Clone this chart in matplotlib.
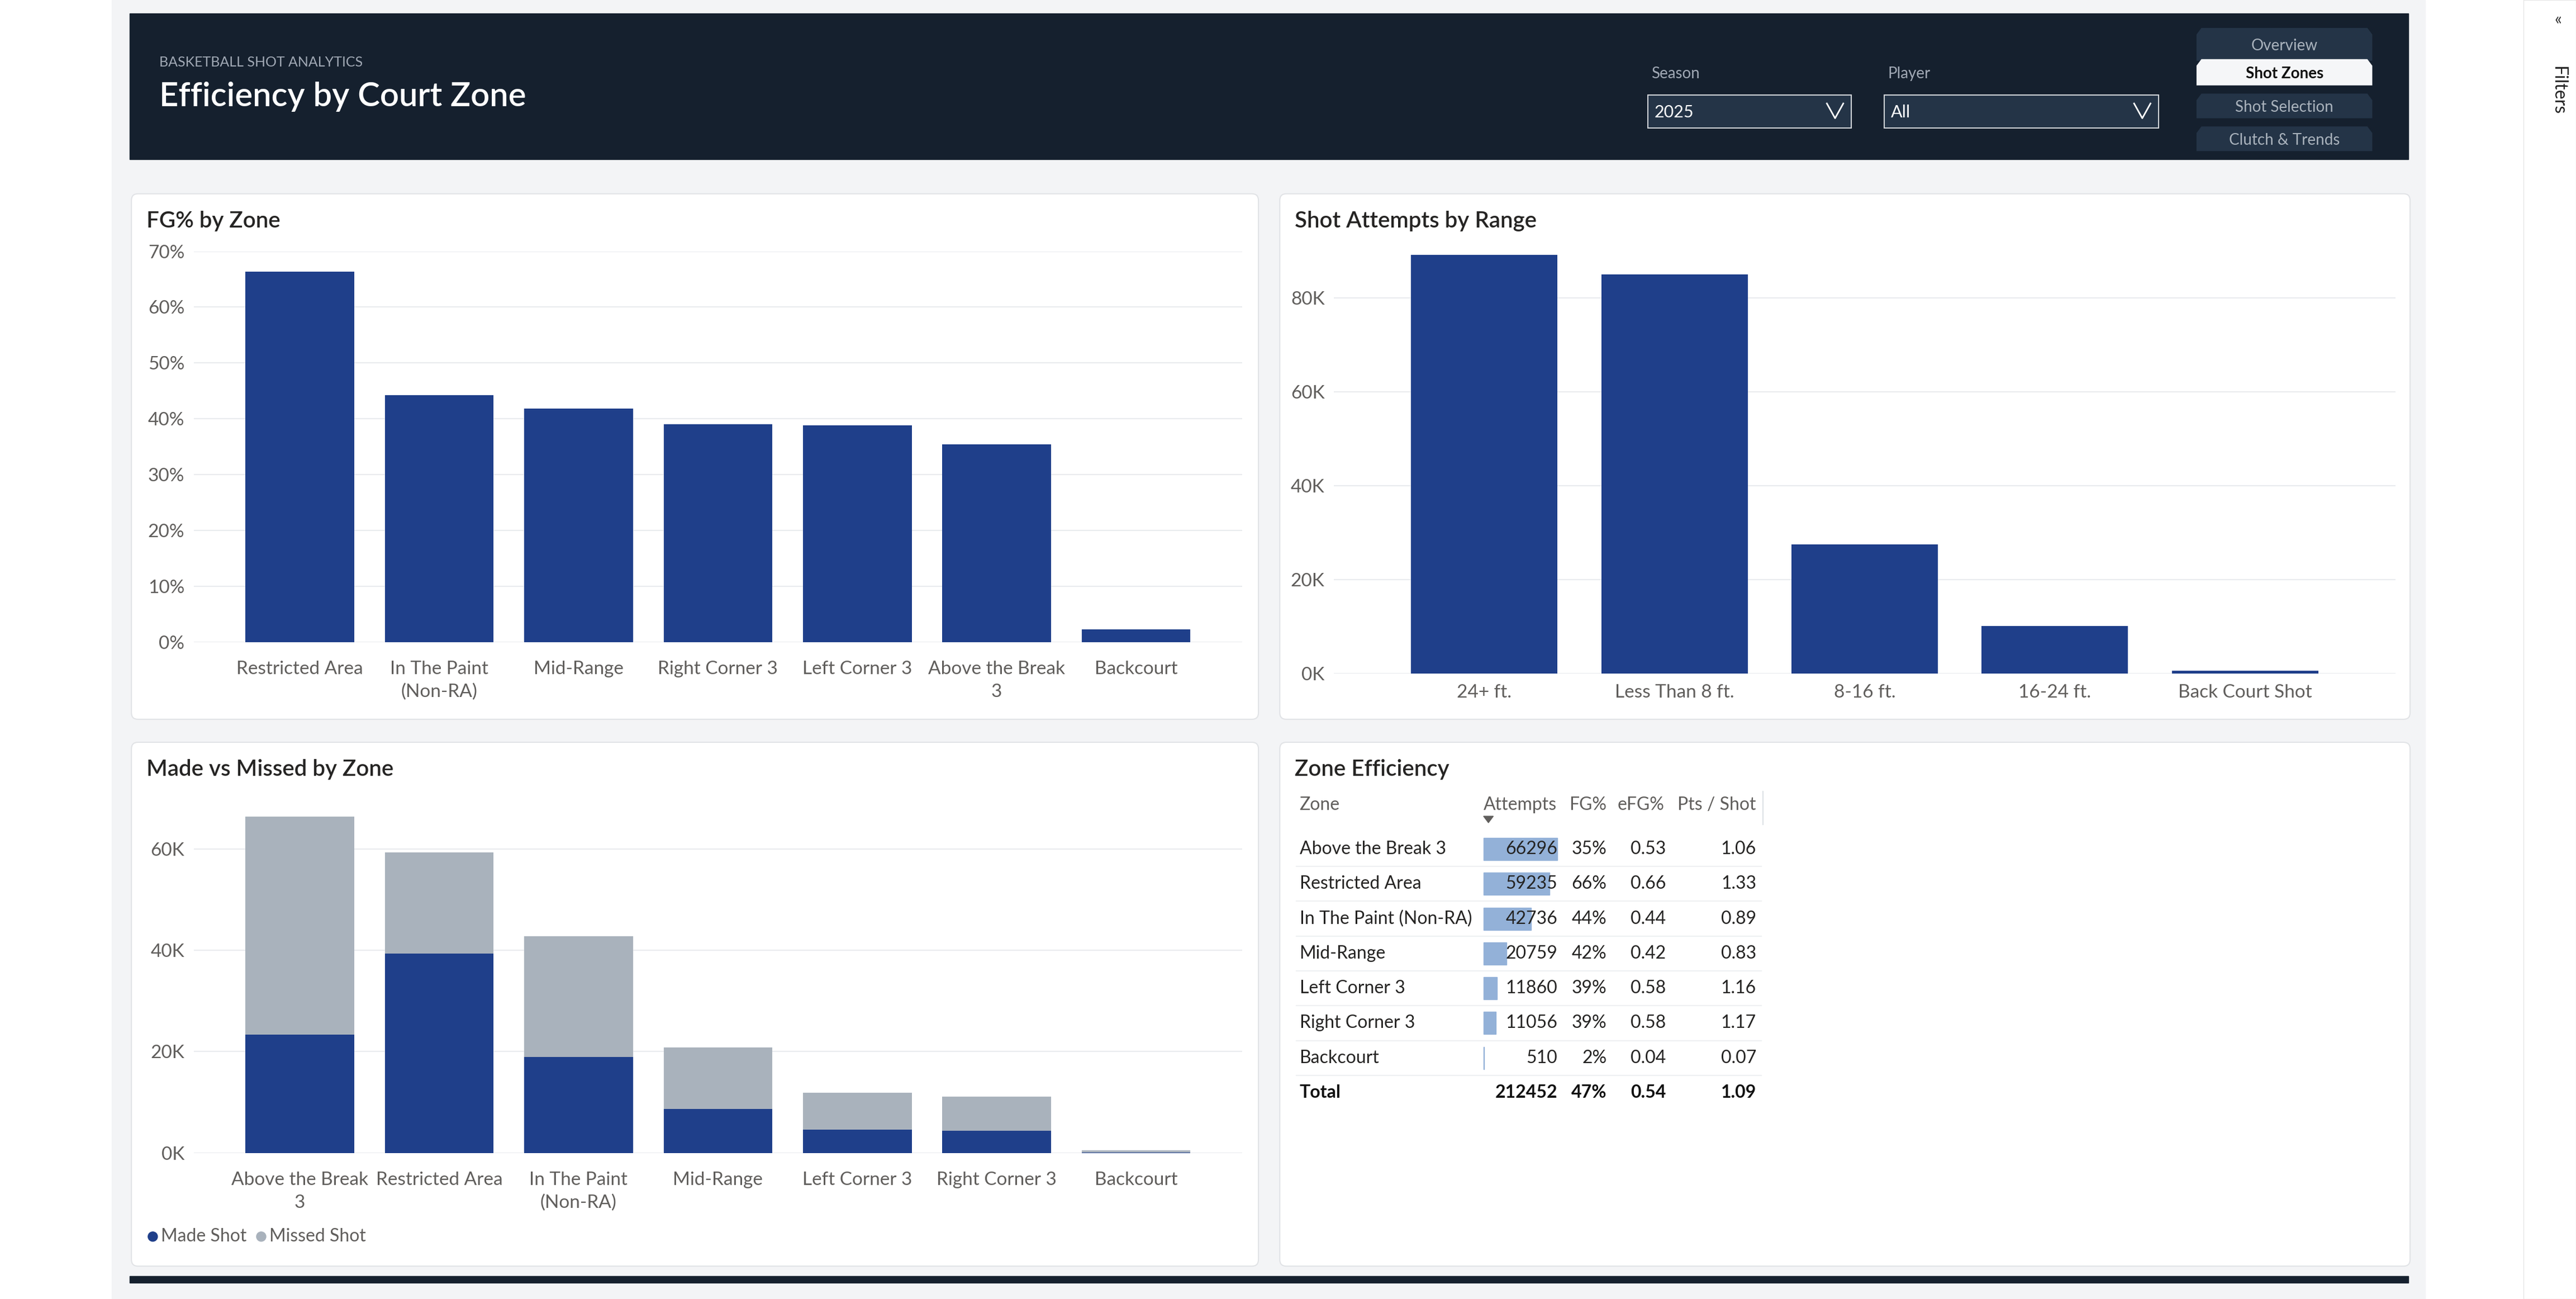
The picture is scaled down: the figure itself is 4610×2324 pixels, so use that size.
import matplotlib.pyplot as plt
from matplotlib.patches import FancyBboxPatch, Rectangle, Polygon
import numpy as np

plt.rcParams['font.family'] = ['Lato', 'DejaVu Sans']

# ---- data
fg_zones = ["Restricted Area", "In The Paint\n(Non-RA)", "Mid-Range", "Right Corner 3",
            "Left Corner 3", "Above the Break\n3", "Backcourt"]
fg_pct = [66.3, 44.2, 41.8, 39.0, 38.8, 35.4, 2.3]

ranges = ["24+ ft.", "Less Than 8 ft.", "8-16 ft.", "16-24 ft.", "Back Court Shot"]
range_attempts = [89212, 85100, 27500, 10130, 510]

mm_zones = ["Above the Break\n3", "Restricted Area", "In The Paint\n(Non-RA)", "Mid-Range",
            "Left Corner 3", "Right Corner 3", "Backcourt"]
mm_made = [23300, 39300, 18900, 8700, 4600, 4350, 10]
mm_attempts = [66296, 59235, 42736, 20759, 11860, 11056, 510]

tbl_zone = ["Above the Break 3", "Restricted Area", "In The Paint (Non-RA)", "Mid-Range",
            "Left Corner 3", "Right Corner 3", "Backcourt"]
tbl_att = [66296, 59235, 42736, 20759, 11860, 11056, 510]
tbl_fg = ["35%", "66%", "44%", "42%", "39%", "39%", "2%"]
tbl_efg = ["0.53", "0.66", "0.44", "0.42", "0.58", "0.58", "0.04"]
tbl_pts = ["1.06", "1.33", "0.89", "0.83", "1.16", "1.17", "0.07"]
tbl_total = ["Total", "212452", "47%", "0.54", "1.09"]

NAVY = "#1f3f8a"
GRAY = "#a9b2bc"
DARK = "#15202e"
TXT = "#605e5c"
W, H = 1568.0, 791.0

fig = plt.figure(figsize=(46.1, 23.24), dpi=100)
bg = fig.add_axes([0, 0, 1, 1], zorder=0)
bg.set_xlim(0, W)
bg.set_ylim(H, 0)
bg.axis("off")


def rect(x0, y0, x1, y1):
    return [x0 / W, 1 - y1 / H, (x1 - x0) / W, (y1 - y0) / H]


# page background
bg.add_patch(Rectangle((68, 0), 1408, 791, color="#f3f4f6", zorder=0))
bg.add_patch(Rectangle((1536, 0), 32, 791, color="white", ec="#e6e6e6", lw=1, zorder=0))
bg.text(1557, 12, "«", fontsize=22, ha="center", va="center", color="#333")
bg.text(1557, 55, "Filters", fontsize=23, rotation=-90, ha="center", va="center", color="#222")

# header
bg.add_patch(Rectangle((79, 8), 1387, 89, color=DARK, zorder=1))
bg.text(97, 38, "BASKETBALL SHOT ANALYTICS", fontsize=18, color="#a0a8b4", va="center", zorder=2)
bg.text(97, 59, "Efficiency by Court Zone", fontsize=43, color="white", va="center",
        fontweight="semibold", zorder=2)
for lx, bx0, bx1, val in [(1005, 1003, 1127, "2025"), (1149, 1147, 1314, "All")]:
    bg.text(lx, 45, "Season" if val == "2025" else "Player", fontsize=20, color="#a0a8b4",
            va="center", zorder=2)
    bg.add_patch(Rectangle((bx0, 58), bx1 - bx0, 20, fc="#243447", ec="#d0d4d8", lw=1.5, zorder=2))
    bg.text(bx0 + 4, 68.5, val, fontsize=22, color="white", va="center", zorder=3)
    bg.plot([bx1 - 15, bx1 - 10, bx1 - 5], [63, 72, 63], color="white", lw=2, zorder=3)
navs = [("Overview", 17, 37), ("Shot Zones", 36, 52), ("Shot Selection", 57, 72), ("Clutch & Trends", 77, 92)]
for name, t, b in navs:
    active = name == "Shot Zones"
    bg.add_patch(Polygon([(1337, b), (1337, t + 4), (1340, t), (1441, t), (1444, t + 4), (1444, b)],
                         closed=True, fc="#f5f6f8" if active else "#243447", zorder=2))
    bg.text(1390.5, (t + b) / 2 + 1, name, fontsize=20, ha="center", va="center", zorder=3,
            color="#111" if active else "#a9b2bc", fontweight="bold" if active else "normal")

# panels
for x0, y0, x1, y1, title in [(80, 118, 766, 438, "FG% by Zone"),
                              (779, 118, 1467, 438, "Shot Attempts by Range"),
                              (80, 452, 766, 771, "Made vs Missed by Zone"),
                              (779, 452, 1467, 771, "Zone Efficiency")]:
    bg.add_patch(FancyBboxPatch((x0, y0), x1 - x0, y1 - y0, boxstyle="round,pad=0,rounding_size=4",
                                fc="white", ec="#e1e3e6", lw=1.5, zorder=1))
    bg.text(x0 + 9, y0 + 16.5, title, fontsize=29, color="#252423", va="center",
            fontweight="semibold", zorder=2)
bg.add_patch(Rectangle((79, 777), 1387, 4, color=DARK, zorder=1))


def style(ax, xpad):
    ax.set_facecolor("none")
    for s in ax.spines.values():
        s.set_visible(False)
    ax.grid(axis="y", color="#e9ebee", lw=1.5)
    ax.set_axisbelow(True)
    ax.tick_params(length=0, labelsize=24, labelcolor=TXT)
    ax.tick_params(axis="x", pad=xpad)
    ax.tick_params(axis="y", pad=12)


# FG% by zone
ax1 = fig.add_axes(rect(118, 153, 756, 391), zorder=2)
x = np.arange(len(fg_zones))
ax1.bar(x, fg_pct, width=0.78, color=NAVY)
ax1.set_xlim(-0.76, len(fg_zones) - 0.24)
ax1.set_ylim(0, 70)
ax1.set_yticks(range(0, 71, 10))
ax1.set_yticklabels([f"{v}%" for v in range(0, 71, 10)])
ax1.set_xticks(x)
ax1.set_xticklabels(fg_zones, linespacing=1.45)
style(ax1, 24)

# attempts by range
ax2 = fig.add_axes(rect(812, 153, 1458, 410), zorder=2)
x = np.arange(len(ranges))
ax2.bar(x, range_attempts, width=0.77, color=NAVY)
ax2.set_xlim(-0.79, len(ranges) - 0.21)
ax2.set_ylim(0, 90000)
ax2.set_yticks(range(0, 80001, 20000))
ax2.set_yticklabels([f"{v // 1000}K" for v in range(0, 80001, 20000)])
ax2.set_xticks(x)
ax2.set_xticklabels(ranges)
style(ax2, 14)

# made vs missed
ax3 = fig.add_axes(rect(118, 486, 756, 702), zorder=2)
x = np.arange(len(mm_zones))
missed = np.array(mm_attempts) - np.array(mm_made)
ax3.bar(x, mm_made, width=0.78, color=NAVY)
ax3.bar(x, missed, bottom=mm_made, width=0.78, color=GRAY)
ax3.set_xlim(-0.76, len(mm_zones) - 0.24)
ax3.set_ylim(0, 70000)
ax3.set_yticks(range(0, 60001, 20000))
ax3.set_yticklabels([f"{v // 1000}K" for v in range(0, 60001, 20000)])
ax3.set_xticks(x)
ax3.set_xticklabels(mm_zones, linespacing=1.45)
style(ax3, 24)
bg.scatter([93, 159], [753, 753], s=150, c=[NAVY, GRAY], zorder=3)
bg.text(98, 753, "Made Shot", fontsize=23, color=TXT, va="center", zorder=3)
bg.text(164, 753, "Missed Shot", fontsize=23, color=TXT, va="center", zorder=3)

# table
hdr_col = "#605e5c"
bg.text(791, 490, "Zone", fontsize=23, color=hdr_col, va="center", zorder=3)
bg.text(903, 490, "Attempts", fontsize=23, color=hdr_col, va="center", zorder=3)
bg.text(978, 490, "FG%", fontsize=23, color=hdr_col, va="center", ha="right", zorder=3)
bg.text(1013, 490, "eFG%", fontsize=23, color=hdr_col, va="center", ha="right", zorder=3)
bg.text(1069, 490, "Pts / Shot", fontsize=23, color=hdr_col, va="center", ha="right", zorder=3)
bg.add_patch(Polygon([(903, 497), (909, 497), (906, 501)], closed=True, color="#605e5c", zorder=3))
bg.plot([1073, 1073], [482, 502], color="#dde1e6", lw=1.5, zorder=3)
row_h = 21.2
maxatt = max(tbl_att)
for i in range(len(tbl_zone)):
    yc = 517 + i * row_h
    bg.add_patch(Rectangle((903, yc - 6.8), 45 * tbl_att[i] / maxatt, 13.6, color="#93b1d8", zorder=2))
    bg.text(791, yc, tbl_zone[i], fontsize=23, color="#252423", va="center", zorder=3)
    bg.text(948, yc, str(tbl_att[i]), fontsize=23, color="#252423", va="center", ha="right", zorder=3)
    bg.text(978, yc, tbl_fg[i], fontsize=23, color="#252423", va="center", ha="right", zorder=3)
    bg.text(1014, yc, tbl_efg[i], fontsize=23, color="#252423", va="center", ha="right", zorder=3)
    bg.text(1069, yc, tbl_pts[i], fontsize=23, color="#252423", va="center", ha="right", zorder=3)
    bg.plot([789, 1072], [yc + row_h / 2, yc + row_h / 2], color="#eef0f2", lw=1.5, zorder=2)
yt = 517 + 7 * row_h
for xpos, txt, ha in zip([791, 948, 978, 1014, 1069], tbl_total, ["left"] + ["right"] * 4):
    bg.text(xpos, yt, txt, fontsize=23, color="#111", va="center", ha=ha, fontweight="bold", zorder=3)

fig.savefig("out.png", dpi=100, facecolor="white")
